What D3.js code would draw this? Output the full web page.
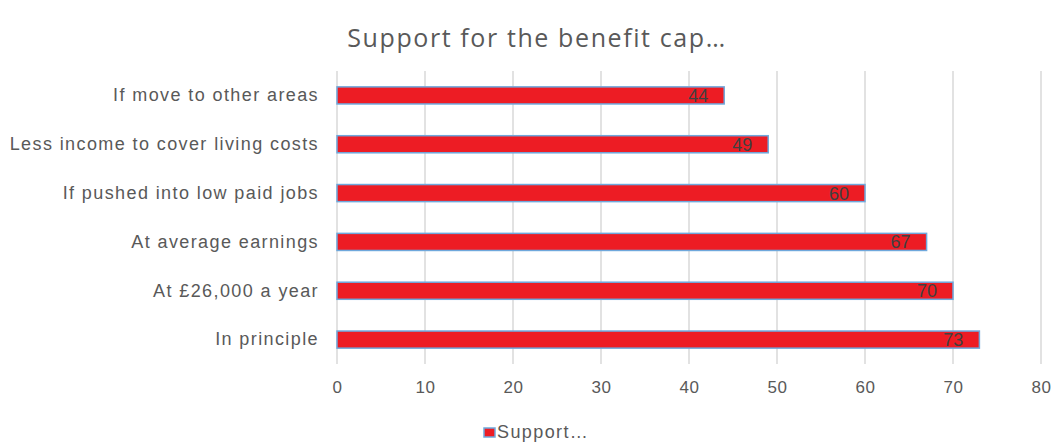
<!DOCTYPE html>
<html><head><meta charset="utf-8">
<script src="https://cdn.jsdelivr.net/npm/d3@7"></script>
<style>body{margin:0;background:#fff;} svg{display:block;}</style>
</head><body>
<svg id="c" width="1052" height="443"></svg>
<script>
const categories = ["If move to other areas","Less income to cover living costs","If pushed into low paid jobs","At average earnings ","At £26,000 a year","In principle"];
const support = [44,49,60,67,70,73];
const xTicks = [0,10,20,30,40,50,60,70,80];
const seriesName = "Support…";
const title = "Support for the benefit cap…";

const svg = d3.select("#c");
const m = {l:337, r:1041, t:71, b:364};
const x = d3.scaleLinear().domain([0,80]).range([m.l, m.r]);
const y = d3.scaleBand().domain(categories).range([m.t, m.b]).paddingInner(0.65).paddingOuter(0.325);
const FONT = "Liberation Sans, Arial, sans-serif";

svg.append("text").attr("x",537).attr("y",47).attr("text-anchor","middle")
  .attr("font-family","Open Sans, Noto Sans, sans-serif").attr("font-size",25)
  .attr("letter-spacing",1.6).attr("fill","#595959").text(title);

svg.append("g").selectAll("line").data(xTicks).join("line")
  .attr("x1",d=>x(d)).attr("x2",d=>x(d)).attr("y1",m.t).attr("y2",m.b)
  .attr("stroke","#d9d9d9").attr("stroke-width",1.5);

const xa = svg.append("g").attr("transform",`translate(0,${m.b})`)
  .call(d3.axisBottom(x).tickValues(xTicks).tickSize(0).tickPadding(17));
xa.select(".domain").remove();
xa.selectAll("text").attr("font-family",FONT).attr("font-size",17).attr("letter-spacing",0.5).attr("fill","#595959");

const ya = svg.append("g").attr("transform",`translate(${m.l},0)`)
  .call(d3.axisLeft(y).tickSize(0).tickPadding(18));
ya.select(".domain").remove();
ya.selectAll("text").attr("font-family",FONT).attr("font-size",18).attr("letter-spacing",1.4).attr("fill","#595959");

svg.append("g").selectAll("rect").data(categories).join("rect")
  .attr("x",x(0)).attr("y",d=>y(d)).attr("width",(d,i)=>x(support[i])-x(0)).attr("height",y.bandwidth())
  .attr("fill","#ED1C24").attr("stroke","#6FA8DC").attr("stroke-width",1.5);

svg.append("g").selectAll("text").data(categories).join("text")
  .attr("x",(d,i)=>x(support[i])-16).attr("y",d=>y(d)+y.bandwidth()/2).attr("dy","0.36em")
  .attr("text-anchor","end").attr("font-family",FONT).attr("font-size",18)
  .attr("fill","#404040").text((d,i)=>support[i]);

const lg = svg.append("g");
lg.append("rect").attr("x",484).attr("y",428).attr("width",11).attr("height",9)
  .attr("fill","#ED1C24").attr("stroke","#6FA8DC").attr("stroke-width",1.5);
lg.append("text").attr("x",497).attr("y",438).attr("font-family",FONT)
  .attr("font-size",18).attr("letter-spacing",1.4).attr("fill","#595959").text(seriesName);
</script>
</body></html>
